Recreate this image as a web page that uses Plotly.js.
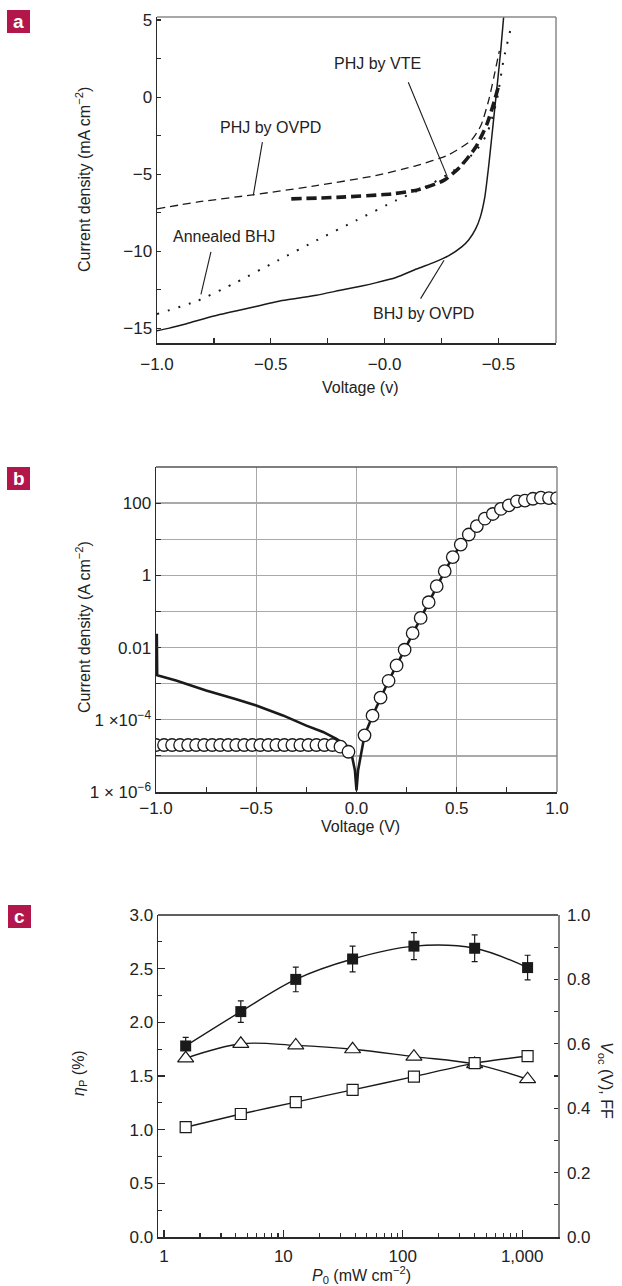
<!DOCTYPE html>
<html><head><meta charset="utf-8">
<script src="https://cdn.plot.ly/plotly-3.0.1.min.js"></script>
<style>html,body{margin:0;padding:0;background:#fff}#chart{width:622px;height:1286px}</style>
</head><body><div id="chart"></div>
<script>
// ---------- Panel a: J–V curves (mA cm^-2) ----------
const aBhjOvpdV = [-1.0, -0.95, -0.87, -0.75, -0.6, -0.45, -0.3, -0.2, -0.1, -0.04, 0.05, 0.14, 0.22, 0.28, 0.34, 0.37, 0.40, 0.42, 0.44, 0.457, 0.47, 0.483, 0.497, 0.51, 0.523];
const aBhjOvpdJ = [-15.15, -15.0, -14.7, -14.2, -13.7, -13.2, -12.85, -12.55, -12.25, -12.05, -11.7, -11.15, -10.7, -10.3, -9.7, -9.25, -8.55, -7.8, -6.5, -4.5, -2.7, -0.86, 1.1, 3.0, 5.2];
const aPhjOvpdV = [-1.0, -0.82, -0.58, -0.3, -0.04, 0.14, 0.28, 0.38, 0.423, 0.457, 0.48, 0.504];
const aPhjOvpdJ = [-7.25, -6.8, -6.34, -5.74, -5.09, -4.44, -3.75, -2.81, -1.84, -0.22, 1.3, 3.0];
const aPhjVteV = [-0.41, -0.21, 0.03, 0.15, 0.26, 0.33, 0.40, 0.45, 0.483, 0.50];
const aPhjVteJ = [-6.6, -6.5, -6.28, -6.0, -5.4, -4.55, -3.25, -1.73, -0.22, 0.7];
const aAnnealedV = [-1.0, -0.82, -0.65, -0.47, -0.3, -0.125, 0.05, 0.17, 0.3, 0.40, 0.449, 0.493, 0.522, 0.558];
const aAnnealedJ = [-14.07, -13.2, -12.0, -10.6, -9.3, -8.0, -6.7, -5.9, -4.8, -3.5, -2.4, -0.2, 2.37, 4.7];
const aXTickVals = [-1.0, -0.5, 0.0, 0.5];
const aXTickText = ['\u22121.0', '\u22120.5', '\u22120.0', '\u22120.5'];
const aYTickVals = [5, 0, -5, -10, -15];
const aYTickText = ['5', '0', '\u22125', '\u221210', '\u221215'];

// ---------- Panel b: log |J| (A cm^-2) ----------
const bVoltage = [-1.00, -0.96, -0.92, -0.88, -0.84, -0.80, -0.76, -0.72, -0.68, -0.64, -0.60, -0.56, -0.52, -0.48, -0.44, -0.40, -0.36, -0.32, -0.28, -0.24, -0.20, -0.16, -0.12, -0.08, -0.04,
                  0.04, 0.08, 0.12, 0.16, 0.20, 0.24, 0.28, 0.32, 0.36, 0.40, 0.44, 0.48, 0.52, 0.56, 0.60, 0.64, 0.68, 0.72, 0.76, 0.80, 0.84, 0.88, 0.92, 0.96, 1.00];
const bCurrent = [2.0e-5, 2.0e-5, 2.0e-5, 2.0e-5, 2.0e-5, 2.0e-5, 2.0e-5, 2.0e-5, 2.0e-5, 2.0e-5, 2.0e-5, 2.0e-5, 2.0e-5, 2.0e-5, 2.0e-5, 2.0e-5, 2.0e-5, 2.0e-5, 2.0e-5, 2.0e-5, 2.0e-5, 2.0e-5, 2.0e-5, 1.8e-5, 1.3e-5,
                  3.7e-5, 1.3e-4, 4.1e-4, 1.2e-3, 3.2e-3, 8.7e-3, 0.025, 0.066, 0.18, 0.50, 1.3, 3.2, 7.1, 13.5, 23, 37, 50, 69, 87, 112, 117, 132, 141, 138, 138];
const bDarkV = [-0.996, -0.994, -0.9, -0.75, -0.6, -0.5, -0.367, -0.25, -0.167, -0.1, -0.05, -0.025, -0.008, 0.0, 0.008, 0.025];
const bDarkJ = [0.024, 1.7e-3, 1.23e-3, 6.5e-4, 3.7e-4, 2.5e-4, 1.32e-4, 6.9e-5, 4.6e-5, 2.95e-5, 1.95e-5, 1.15e-5, 4.0e-6, 1.1e-6, 4.0e-6, 1.4e-5];
const bYTickVals = [1e-6, 1e-4, 1e-2, 1, 100];
const bYTickText = ['1 \u00d7 10<sup>\u22126</sup>', '1 \u00d710<sup>\u22124</sup>', '0.01', '1', '100'];
const bYGridOdd = [1e-5, 1e-3, 1e-1, 10];
const bXTickVals = [-1.0, -0.5, 0.0, 0.5, 1.0];
const bXTickText = ['\u22121.0', '\u22120.5', '0.0', '0.5', '1.0'];

// ---------- Panel c: efficiency vs intensity ----------
const cPower = [1.52, 4.4, 12.7, 38, 124, 400, 1110];
const cEta = [1.78, 2.10, 2.40, 2.59, 2.71, 2.69, 2.51];
const cEtaErr = [0.08, 0.10, 0.115, 0.12, 0.125, 0.125, 0.115];
const cFF = [0.555, 0.600, 0.595, 0.583, 0.560, 0.537, 0.490];
const cVoc = [0.341, 0.382, 0.419, 0.457, 0.498, 0.540, 0.562];
const cXTickVals = [1, 10, 100, 1000];
const cXTickText = ['1', '10', '100', '1,000'];

// ---------- geometry helpers ----------
const W = 622, H = 1286;
const fx = v => v / W;
const fy = v => 1 - v / H;
const FONT = 'Liberation Sans, Arial, sans-serif';
const INK = '#222222';
const TF = {family: FONT, size: 16, color: INK};
const TK = {family: FONT, size: 17, color: INK};

function axis(o) {
  return Object.assign({
    showline: true, linecolor: '#2a2a2a', linewidth: 1.5,
    ticks: 'inside', tickcolor: '#2a2a2a', tickwidth: 1.2, ticklen: 5,
    zeroline: false, showgrid: false, tickfont: TK, fixedrange: true,
    mirror: false
  }, o);
}

const lineDark = '#1a1a1a';
const traces = [
  // panel a
  {x: aPhjOvpdV, y: aPhjOvpdJ, mode: 'lines', xaxis: 'x', yaxis: 'y', name: 'PHJ by OVPD',
   line: {color: lineDark, width: 1.3, dash: '8px,5px', shape: 'spline', smoothing: 0.6}},
  {x: aAnnealedV, y: aAnnealedJ, mode: 'lines', xaxis: 'x', yaxis: 'y', name: 'Annealed BHJ',
   line: {color: lineDark, width: 2, dash: '2px,9px', shape: 'spline', smoothing: 0.6}},
  {x: aPhjVteV, y: aPhjVteJ, mode: 'lines', xaxis: 'x', yaxis: 'y', name: 'PHJ by VTE',
   line: {color: lineDark, width: 3.6, dash: '10px,5px', shape: 'spline', smoothing: 0.6}},
  {x: aBhjOvpdV, y: aBhjOvpdJ, mode: 'lines', xaxis: 'x', yaxis: 'y', name: 'BHJ by OVPD',
   line: {color: lineDark, width: 1.5, shape: 'spline', smoothing: 0.5}},
  // panel b
  {x: bDarkV.concat(bVoltage.filter(v => v > 0)),
   y: bDarkJ.concat(bCurrent.filter((c, i) => bVoltage[i] > 0)),
   mode: 'lines', xaxis: 'x2', yaxis: 'y2', name: 'line',
   line: {color: lineDark, width: 2.6}},
  {x: bVoltage, y: bCurrent, mode: 'markers', xaxis: 'x2', yaxis: 'y2', name: 'points',
   marker: {symbol: 'circle', size: 12.5, color: '#ffffff', line: {color: lineDark, width: 1.3}}},
  // panel c
  {x: cPower, y: cEta, mode: 'lines+markers', xaxis: 'x3', yaxis: 'y3', name: 'ηP',
   line: {color: lineDark, width: 1.4, shape: 'spline', smoothing: 1},
   marker: {symbol: 'square', size: 11, color: lineDark},
   error_y: {type: 'data', array: cEtaErr, visible: true, color: lineDark, thickness: 1.2, width: 3}},
  {x: cPower, y: cFF, mode: 'lines+markers', xaxis: 'x3', yaxis: 'y4', name: 'FF',
   line: {color: lineDark, width: 1.4, shape: 'spline', smoothing: 1},
   marker: {symbol: 'triangle-up', size: 14, color: '#ffffff', line: {color: lineDark, width: 1.2}}},
  {x: cPower, y: cVoc, mode: 'lines+markers', xaxis: 'x3', yaxis: 'y4', name: 'Voc',
   line: {color: lineDark, width: 1.4, shape: 'spline', smoothing: 0.6},
   marker: {symbol: 'square', size: 11, color: '#ffffff', line: {color: lineDark, width: 1.2}}}
];

const gridC = '#a9a9a9';
const layout = {
  width: W, height: H, margin: {l: 0, r: 0, t: 0, b: 0},
  paper_bgcolor: '#ffffff', plot_bgcolor: '#ffffff', showlegend: false,
  font: {family: FONT, size: 16, color: INK},
  // panel a
  xaxis: axis({domain: [fx(157), fx(556)], anchor: 'y', range: [-1.0, 0.753],
    tickmode: 'array', tickvals: aXTickVals, ticktext: aXTickText, ticklabelstandoff: 5,
    minor: {tickmode: 'array', tickvals: [-0.75, -0.25, 0.25], ticks: 'inside', ticklen: 5, tickcolor: '#2a2a2a'}}),
  yaxis: axis({domain: [fy(343), fy(17)], anchor: 'x', range: [-15.95, 5.2],
    tickmode: 'array', tickvals: aYTickVals, ticktext: aYTickText, ticklen: 4,
    minor: {tickmode: 'array', tickvals: [2.5, -2.5, -7.5, -12.5], ticks: 'inside', ticklen: 4, tickcolor: '#2a2a2a'}}),
  // panel b
  xaxis2: axis({domain: [fx(156), fx(557)], anchor: 'y2', range: [-1.0, 1.0],
    tickmode: 'array', tickvals: bXTickVals, ticktext: bXTickText,
    showgrid: true, gridcolor: gridC, gridwidth: 1.3,
    minor: {tickmode: 'array', tickvals: [-0.75, -0.25, 0.25, 0.75], ticks: 'inside', ticklen: 5, tickcolor: '#2a2a2a'}}),
  yaxis2: axis({domain: [fy(792), fy(467)], anchor: 'x2', type: 'log', range: [-6, 3],
    tickmode: 'array', tickvals: bYTickVals, ticktext: bYTickText, ticklen: 5,
    showgrid: true, gridcolor: gridC, gridwidth: 1.3,
    minor: {tickmode: 'array', tickvals: bYGridOdd, ticks: 'inside', ticklen: 5, tickcolor: '#2a2a2a',
            showgrid: true, gridcolor: gridC, gridwidth: 1.3}}),
  yaxis5: axis({overlaying: 'y2', side: 'left', anchor: 'x2', type: 'log', range: [-6, 3],
    showline: false, showticklabels: false, tickmode: 'array', tickvals: [1000], ticklen: 5,
    minor: {dtick: 'D1', ticks: 'inside', ticklen: 3, tickcolor: '#2a2a2a', showgrid: false}}),
  // panel c
  xaxis3: axis({domain: [fx(158), fx(558)], anchor: 'y3', type: 'log', range: [-0.05, 3.3],
    tickmode: 'array', tickvals: cXTickVals, ticktext: cXTickText, ticklen: 7, ticklabelstandoff: 3,
    minor: {dtick: 'D1', ticks: 'inside', ticklen: 4, tickcolor: '#2a2a2a'}}),
  yaxis3: axis({domain: [fy(1237), fy(915)], anchor: 'x3', range: [0, 3],
    tickmode: 'linear', tick0: 0, dtick: 0.5, tickformat: '.1f', ticklen: 7,
    minor: {dtick: 0.25, ticks: 'inside', ticklen: 4, tickcolor: '#2a2a2a'}}),
  yaxis4: axis({overlaying: 'y3', side: 'right', anchor: 'x3', range: [0, 1],
    tickmode: 'linear', tick0: 0, dtick: 0.2, tickformat: '.1f', ticklen: 4,
    linecolor: '#808080', ticklabelstandoff: 4,
    minor: {dtick: 0.1, ticks: 'inside', ticklen: 4, tickcolor: '#2a2a2a'}}),
  shapes: [
    // frame tops / rights
    {type: 'line', xref: 'x domain', yref: 'y domain', x0: 0, x1: 1, y0: 1, y1: 1, line: {color: '#8a8a8a', width: 1.5}},
    {type: 'line', xref: 'x domain', yref: 'y domain', x0: 1, x1: 1, y0: 0, y1: 1, line: {color: '#8a8a8a', width: 1.5}},
    {type: 'line', xref: 'x2 domain', yref: 'y2 domain', x0: 0, x1: 1, y0: 1, y1: 1, line: {color: '#555555', width: 1.5}},
    {type: 'line', xref: 'x2 domain', yref: 'y2 domain', x0: 1, x1: 1, y0: 0, y1: 1, line: {color: '#8a8a8a', width: 1.5}},
    {type: 'line', xref: 'x3 domain', yref: 'y3 domain', x0: 0, x1: 1, y0: 1, y1: 1, line: {color: '#2a2a2a', width: 1.5}},
    // leader lines panel a
    {type: 'line', xref: 'x', yref: 'y', x0: 0.104, y0: 0.97, x1: 0.275, y1: -5.14, line: {color: lineDark, width: 1.1}},
    {type: 'line', xref: 'x', yref: 'y', x0: -0.537, y0: -2.92, x1: -0.577, y1: -6.37, line: {color: lineDark, width: 1.1}},
    {type: 'line', xref: 'x', yref: 'y', x0: -0.763, y0: -10.04, x1: -0.807, y1: -12.79, line: {color: lineDark, width: 1.1}},
    {type: 'line', xref: 'x', yref: 'y', x0: 0.158, y0: -13.07, x1: 0.261, y1: -10.58, line: {color: lineDark, width: 1.1}},
    // panel badges
    {type: 'rect', xref: 'paper', yref: 'paper', x0: fx(7), x1: fx(30), y0: fy(33), y1: fy(10), fillcolor: '#b3164a', line: {width: 0}},
    {type: 'rect', xref: 'paper', yref: 'paper', x0: fx(7), x1: fx(30), y0: fy(490), y1: fy(467), fillcolor: '#b3164a', line: {width: 0}},
    {type: 'rect', xref: 'paper', yref: 'paper', x0: fx(8), x1: fx(31), y0: fy(928), y1: fy(905), fillcolor: '#b3164a', line: {width: 0}}
  ],
  annotations: [
    // badges
    {xref: 'paper', yref: 'paper', x: fx(18.5), y: fy(21.5), text: '<b>a</b>', showarrow: false, font: {family: FONT, size: 19, color: '#ffffff'}, xanchor: 'center', yanchor: 'middle'},
    {xref: 'paper', yref: 'paper', x: fx(18.5), y: fy(478.5), text: '<b>b</b>', showarrow: false, font: {family: FONT, size: 19, color: '#ffffff'}, xanchor: 'center', yanchor: 'middle'},
    {xref: 'paper', yref: 'paper', x: fx(19.5), y: fy(916.5), text: '<b>c</b>', showarrow: false, font: {family: FONT, size: 19, color: '#ffffff'}, xanchor: 'center', yanchor: 'middle'},
    // panel a curve labels
    {xref: 'x', yref: 'y', x: -0.03, y: 2.16, text: 'PHJ by VTE', showarrow: false, font: TF},
    {xref: 'x', yref: 'y', x: -0.503, y: -1.94, text: 'PHJ by OVPD', showarrow: false, font: TF},
    {xref: 'x', yref: 'y', x: -0.704, y: -9.07, text: 'Annealed BHJ', showarrow: false, font: TF},
    {xref: 'x', yref: 'y', x: 0.17, y: -14.04, text: 'BHJ by OVPD', showarrow: false, font: TF},
    // axis titles
    {xref: 'paper', yref: 'paper', x: fx(83), y: fy(180), text: 'Current density (mA cm<sup>\u22122</sup>)', textangle: -90, showarrow: false, font: TF, xanchor: 'center', yanchor: 'middle'},
    {xref: 'paper', yref: 'paper', x: fx(360), y: fy(387), text: 'Voltage (v)', showarrow: false, font: TF, xanchor: 'center', yanchor: 'middle'},
    {xref: 'paper', yref: 'paper', x: fx(83), y: fy(627), text: 'Current density (A cm<sup>\u22122</sup>)', textangle: -90, showarrow: false, font: TF, xanchor: 'center', yanchor: 'middle'},
    {xref: 'paper', yref: 'paper', x: fx(360), y: fy(826), text: 'Voltage (V)', showarrow: false, font: TF, xanchor: 'center', yanchor: 'middle'},
    {xref: 'paper', yref: 'paper', x: fx(79), y: fy(1073), text: '<i>\u03b7</i><sub>P</sub> (%)', textangle: -90, showarrow: false, font: TF, xanchor: 'center', yanchor: 'middle'},
    {xref: 'paper', yref: 'paper', x: fx(606), y: fy(1080), text: '<i>V</i><sub>oc</sub> (V), FF', textangle: 90, showarrow: false, font: TF, xanchor: 'center', yanchor: 'middle'},
    {xref: 'paper', yref: 'paper', x: fx(361), y: fy(1275), text: '<i>P</i><sub>0</sub> (mW cm<sup>\u22122</sup>)', showarrow: false, font: TF, xanchor: 'center', yanchor: 'middle'}
  ]
};

Plotly.newPlot('chart', traces, layout, {displayModeBar: false, staticPlot: true});
</script>
</body></html>
